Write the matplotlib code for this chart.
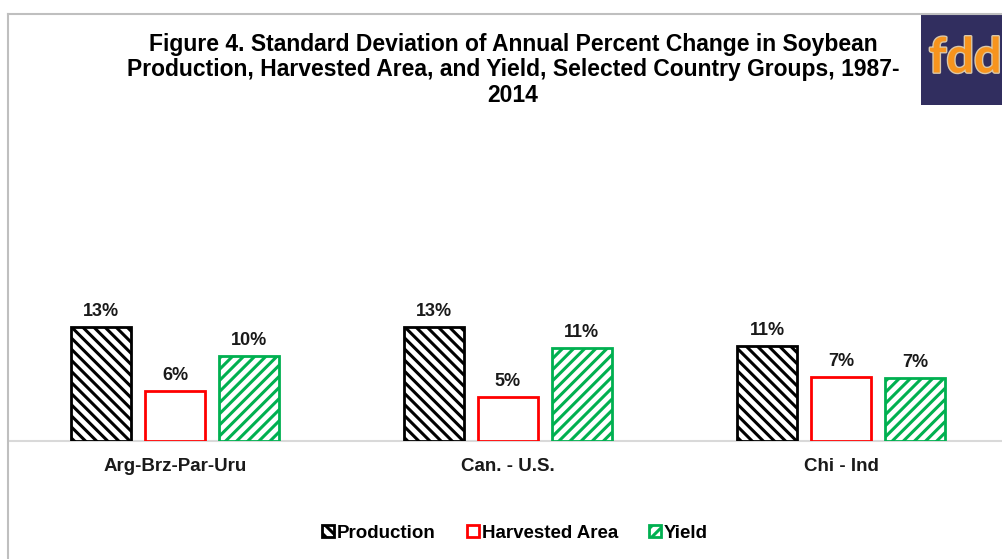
#!/usr/bin/env python3

import matplotlib.pyplot as plt
import matplotlib.patheffects as pe
from matplotlib.lines import Line2D
from matplotlib.patches import Patch, Rectangle
import numpy as np

plt.rcParams['font.family'] = ['Liberation Sans', 'DejaVu Sans']
plt.rcParams['hatch.linewidth'] = 2.2

groups = ['Arg-Brz-Par-Uru', 'Can. - U.S.', 'Chi - Ind']
series = ['Production', 'Harvested Area', 'Yield']
production = [13.0, 13.0, 10.8]
harvested_area = [5.7, 5.0, 7.3]
yield_ = [9.7, 10.6, 7.2]

title = ('Figure 4. Standard Deviation of Annual Percent Change in Soybean\n'
         'Production, Harvested Area, and Yield, Selected Country Groups, 1987-\n'
         '2014')


def main() -> None:
    W, H = 1002, 559
    fig = plt.figure(figsize=(W / 100, H / 100), dpi=100)

    # plot area in pixels: left 10, right 1002, bottom y=441, top y=120
    ax = fig.add_axes([10 / W, 1 - 441 / H, 992 / W, 321 / H])

    x = np.arange(len(groups))
    width = 0.18
    step = 0.222
    styles = [
        dict(facecolor='white', edgecolor='black', hatch='\\\\\\'),
        dict(facecolor='white', edgecolor='#ff0000', hatch=None),
        dict(facecolor='white', edgecolor='#00b050', hatch='///'),
    ]
    handles = []
    for i, (vals, st) in enumerate(zip([production, harvested_area, yield_], styles)):
        bars = ax.bar(x + (i - 1) * step, vals, width=width, linewidth=2.0,
                      zorder=3, **st)
        for rect, v in zip(bars, vals):
            ax.annotate(f'{v:.0f}%',
                        xy=(rect.get_x() + rect.get_width() / 2, v),
                        xytext=(0, 5), textcoords='offset points',
                        ha='center', va='bottom', fontsize=13, fontweight='bold',
                        color='#1a1a1a')
        handles.append(Patch(linewidth=2.0, label=series[i], **st))

    ax.set_xlim(-0.4955, 2.4835)
    ax.set_ylim(0, 36.6)
    ax.set_xticks(x)
    ax.set_xticklabels(groups, fontsize=13.5, fontweight='bold', color='#1a1a1a')
    ax.tick_params(axis='x', length=0, pad=12)
    ax.set_yticks([])
    for side in ['left', 'right', 'top']:
        ax.spines[side].set_visible(False)
    ax.spines['bottom'].set_color('#d9d9d9')
    ax.spines['bottom'].set_linewidth(1.5)
    ax.patch.set_alpha(0)

    fig.legend(handles=handles, loc='center', bbox_to_anchor=(515 / W, 1 - 533 / H),
               ncol=3, frameon=False, handlelength=0.65, handleheight=0.65,
               handletextpad=0.15, columnspacing=1.65,
               prop=dict(size=13.5, weight='bold'))

    fig.text(513 / W, 1 - 70 / H, title, ha='center', va='center', fontsize=16.5,
             fontweight='bold', color='black', linespacing=1.13)

    # chart border
    fig.add_artist(Line2D([8 / W, 8 / W], [0, 1 - 14 / H], color='#bfbfbf', lw=1.5))
    fig.add_artist(Line2D([8 / W, 1], [1 - 14 / H, 1 - 14 / H], color='#bfbfbf', lw=1.5))

    # logo
    fig.add_artist(Rectangle((921 / W, 1 - 105 / H), 81 / W, 91 / H,
                             transform=fig.transFigure, facecolor='#312e5f',
                             edgecolor='none'))
    logo = fig.text(929 / W, 1 - 58 / H, 'fdd', ha='left', va='center', fontsize=35,
                    fontweight='bold', color='#f7941d', family='Lato')
    logo.set_path_effects([pe.withStroke(linewidth=2, foreground='#d9c7a8')])

    fig.savefig('out.png', dpi=100)


if __name__ == '__main__':
    main()
